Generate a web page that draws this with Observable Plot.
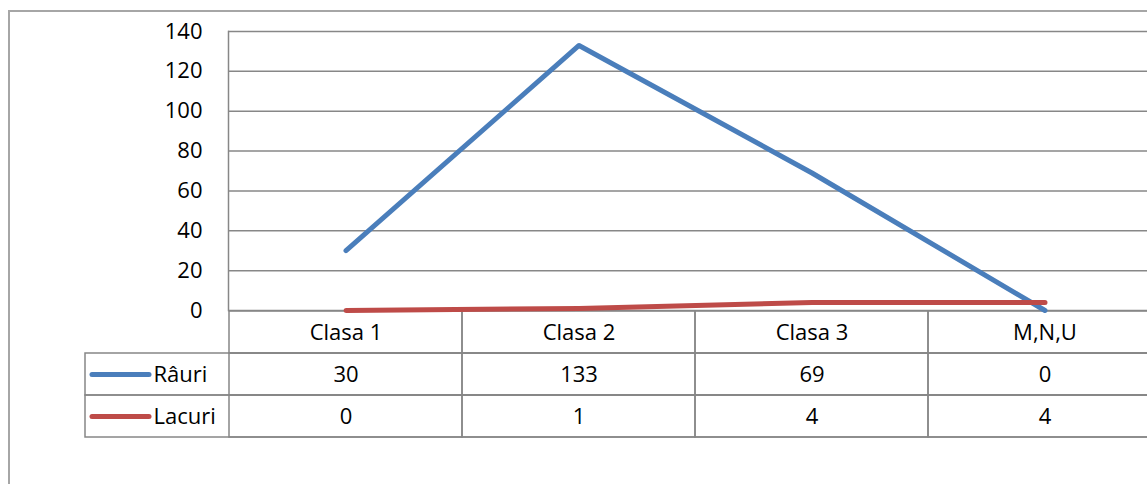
<!DOCTYPE html>
<html><head><meta charset="utf-8">
<script src="https://cdn.jsdelivr.net/npm/d3@7"></script>
<script src="https://cdn.jsdelivr.net/npm/@observablehq/plot@0.6"></script>
<style>
html,body{margin:0;padding:0;background:#fff;}
#wrap{position:relative;width:1147px;height:484px;overflow:hidden;font-family:"Open Sans",sans-serif;}
#frame{position:absolute;left:8px;top:10px;width:1300px;height:700px;border:2px solid #a6a6a6;box-sizing:border-box;}
#chart,#table{position:absolute;left:0;}
#chart{top:0;}
#table{top:309px;}
svg{overflow:visible;}
</style></head><body>
<div id="wrap"><div id="frame"></div><div id="table"></div><div id="chart"></div></div>
<script>
const categories = ["Clasa 1", "Clasa 2", "Clasa 3", "M,N,U"];
const seriesNames = ["Râuri", "Lacuri"];
const rauriValues = [30, 133, 69, 0];
const lacuriValues = [0, 1, 4, 4];
const yTicks = [0, 20, 40, 60, 80, 100, 120, 140];
const seriesColors = ["#4a7ebb", "#be4b48"];

const W = 1147;
const bandW = 233.4;
const xRange = [228, 228 + 4 * bandW];
const gridColor = "#878787";
const font = '"Open Sans", sans-serif';
const fs = 22;
const values = [rauriValues, lacuriValues];
const rows = seriesNames.flatMap((s, si) => categories.map((c, ci) => ({series: s, cat: c, value: values[si][ci]})));
const rowKeys = ["header", ...seriesNames];
const tableCells = rowKeys.flatMap(r => categories.map(c => ({row: r, cat: c})));

const chart = Plot.plot({
  width: W, height: 312, marginTop: 31, marginBottom: 2, marginLeft: 228, marginRight: -20,
  style: {fontFamily: font, fontSize: fs + "px", color: "#000", background: "transparent", overflow: "visible"},
  x: {type: "band", domain: categories, range: xRange, padding: 0, axis: null},
  y: {domain: [0, 140], axis: null, label: null},
  color: {domain: seriesNames, range: seriesColors},
  marks: [
    Plot.ruleY(yTicks, {stroke: gridColor, strokeWidth: 1.5}),
    Plot.frame({anchor: "left", stroke: gridColor, strokeWidth: 1.5}),
    Plot.axisY({ticks: yTicks, tickSize: 0, tickPadding: 26, fontSize: fs, fill: "#000", label: null}),
    Plot.line(rows, {x: "cat", y: "value", z: "series", stroke: "series", strokeWidth: 5, strokeLinecap: "round", strokeLinejoin: "round"})
  ]
});
document.getElementById("chart").appendChild(chart);

const table = Plot.plot({
  width: W, height: 131, marginTop: 1, marginBottom: 2.5, marginLeft: 85, marginRight: -20,
  style: {fontFamily: font, fontSize: fs + "px", color: "#000", background: "transparent", overflow: "visible"},
  x: {type: "band", domain: categories, range: xRange, padding: 0, axis: null},
  y: {type: "band", domain: rowKeys, padding: 0, axis: null},
  color: {domain: seriesNames, range: seriesColors},
  marks: [
    Plot.cell(tableCells, {x: "cat", y: "row", fill: "none", stroke: gridColor, strokeWidth: 1.5, inset: 0}),
    Plot.cell(seriesNames, {y: d => d, fill: "none", stroke: gridColor, strokeWidth: 1.5, inset: 0}),
    Plot.text(categories, {x: d => d, y: () => "header", text: d => d, fill: "#000"}),
    Plot.text(rows, {x: "cat", y: "series", text: d => String(d.value), fill: "#000"}),
    Plot.text(seriesNames, {y: d => d, text: d => d, frameAnchor: "left", textAnchor: "start", dx: 68, fill: "#000"}),
    Plot.tickY(seriesNames, {y: d => d, stroke: d => d, strokeWidth: 5, strokeLinecap: "round", insetLeft: 7, insetRight: (W + 20 - 85) - 64})
  ]
});
document.getElementById("table").appendChild(table);
</script>
</body></html>
